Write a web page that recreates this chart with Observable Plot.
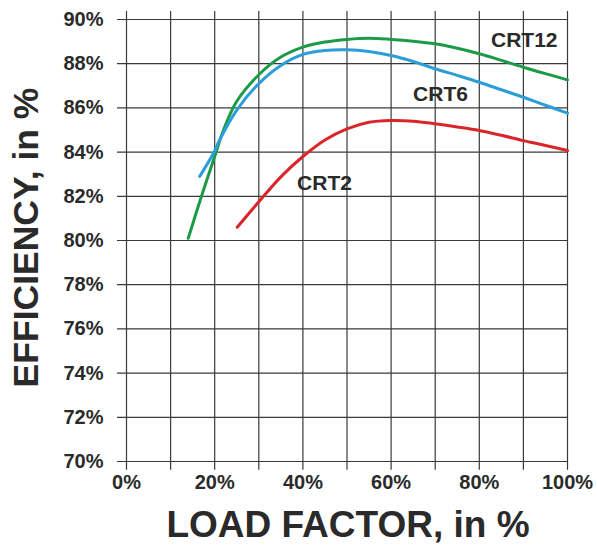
<!DOCTYPE html>
<html>
<head>
<meta charset="utf-8">
<script src="https://cdn.jsdelivr.net/npm/d3@7"></script>
<script src="https://cdn.jsdelivr.net/npm/@observablehq/plot@0.6"></script>
<style>
  html, body { margin: 0; padding: 0; background: #fff; }
  #chart svg { display: block; }
</style>
</head>
<body>
<div id="chart"></div>
<script>
// ---- data ----
const seriesNames = ["CRT12", "CRT6", "CRT2"];
const seriesColors = ["#1d9a48", "#2b9dd9", "#d9262b"];

const crt12Load = [14, 17, 20, 22, 25, 30, 35, 40, 45, 50, 55, 60, 65, 70, 75, 80, 85, 90, 95, 100];
const crt12Eff  = [80.1, 82.0, 83.8, 85.0, 86.3, 87.5, 88.3, 88.75, 88.98, 89.1, 89.15, 89.1, 89.02, 88.9, 88.7, 88.45, 88.15, 87.84, 87.55, 87.27];

const crt6Load = [16.6, 20, 21, 25, 30, 35, 40, 45, 50, 55, 60, 65, 70, 75, 80, 85, 90, 95, 100];
const crt6Eff  = [82.9, 84.05, 84.5, 85.9, 87.1, 87.92, 88.42, 88.6, 88.63, 88.55, 88.37, 88.1, 87.77, 87.47, 87.16, 86.82, 86.48, 86.12, 85.76];

const crt2Load = [25.1, 30, 35, 40, 45, 50, 55, 60, 65, 70, 75, 80, 85, 90, 95, 100];
const crt2Eff  = [80.6, 81.75, 82.88, 83.8, 84.55, 85.05, 85.35, 85.43, 85.4, 85.28, 85.14, 84.98, 84.76, 84.52, 84.3, 84.07];

const labelX = [90.2, 71.2, 44.9];
const labelY = [89.05, 86.6, 82.58];

const xGrid = [0, 10, 20, 30, 40, 50, 60, 70, 80, 90, 100];
const xTickLabels = [0, 20, 40, 60, 80, 100];
const yTicks = [70, 72, 74, 76, 78, 80, 82, 84, 86, 88, 90];

const xTitle = "LOAD FACTOR, in %";
const yTitle = "EFFICIENCY, in %";

// ---- build table ----
const loads = [crt12Load, crt6Load, crt2Load];
const effs = [crt12Eff, crt6Eff, crt2Eff];
const rows = [];
seriesNames.forEach((s, i) => loads[i].forEach((x, j) => rows.push({series: s, load: x, eff: effs[i][j]})));
const labels = seriesNames.map((s, i) => ({series: s, x: labelX[i], y: labelY[i]}));

const ink = "#2a2a2a";
const gridColor = "#3a3a3a";

const chart = Plot.plot({
  width: 597,
  height: 546,
  marginLeft: 126,
  marginRight: 30,
  marginTop: 19,
  marginBottom: 85,
  style: {fontFamily: "'Liberation Sans', Arial, sans-serif", color: ink, background: "#fff"},
  x: {domain: [0, 100]},
  y: {domain: [70, 90]},
  color: {domain: seriesNames, range: seriesColors},
  marks: [
    Plot.ruleX(xGrid, {x: d => d, y1: 69.6, y2: 90.36, stroke: gridColor, strokeWidth: 1.2}),
    Plot.ruleY(yTicks, {y: d => d, x1: -2.05, x2: 100, stroke: gridColor, strokeWidth: 1.2}),
    Plot.axisY(yTicks, {tickSize: 0, tickPadding: 23, tickFormat: d => d + "%", fontSize: 20, fontWeight: "bold", fill: ink, label: null}),
    Plot.axisX(xTickLabels, {tickSize: 0, tickPadding: 13, tickFormat: d => d + "%", fontSize: 20, fontWeight: "bold", fill: ink, label: null}),
    Plot.line(rows, {x: "load", y: "eff", z: "series", stroke: "series", strokeWidth: 3, curve: "catmull-rom"}),
    Plot.text(labels, {x: "x", y: "y", text: "series", fontSize: 21, fontWeight: "bold", fill: ink}),
    Plot.text([xTitle], {frameAnchor: "bottom", textAnchor: "middle", lineAnchor: "middle", dy: 64, dx: 1, text: d => d, fontSize: 37, fontWeight: "bold", fill: ink}),
    Plot.text([yTitle], {frameAnchor: "left", textAnchor: "middle", lineAnchor: "middle", dx: -100, dy: -3, rotate: -90, text: d => d, fontSize: 35.5, fontWeight: "bold", fill: ink})
  ]
});
document.getElementById("chart").appendChild(chart);
</script>
</body>
</html>
